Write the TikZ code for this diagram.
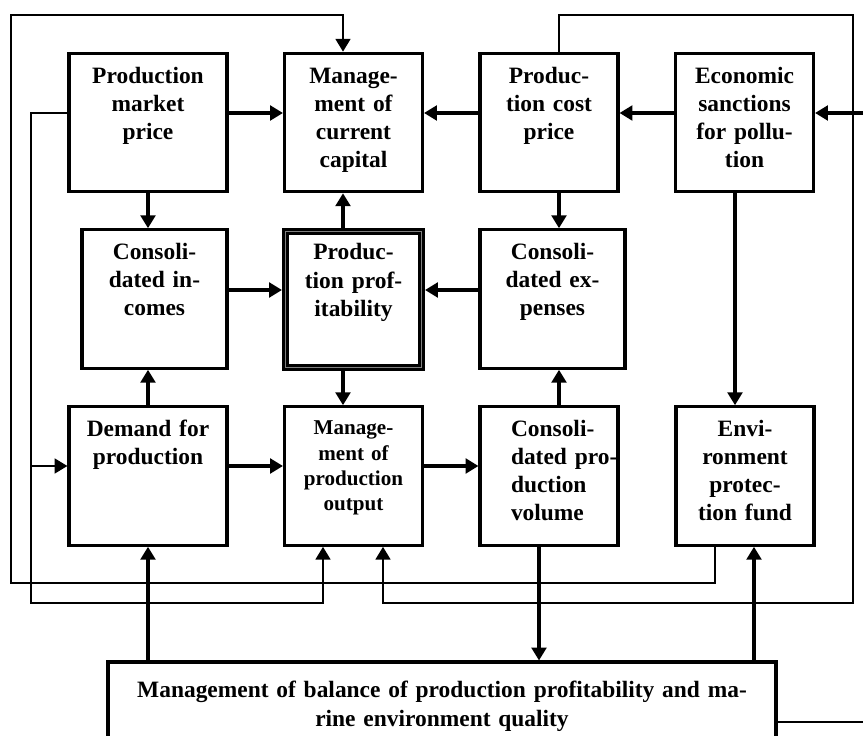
\documentclass[tikz,border=0pt]{standalone}
\usepackage{fontspec}
\setmainfont{Liberation Serif}
\usetikzlibrary{arrows.meta,positioning}

\begin{document}
\begin{tikzpicture}[
    x=0.03cm, y=-0.03cm,
    font=\bfseries\fontsize{20}{24}\selectfont,
    box/.style={draw=black, line width=2.6pt, fill=white, align=center,
      inner xsep=0pt, inner ysep=0pt, text height=25.5pt, text depth=92.7pt},
    wbox/.style={box, minimum width=4.74cm, text width=4.4cm},
    mbox/.style={box, minimum width=4.35cm, text width=4.1cm},
    nbox/.style={box, minimum width=4.14cm, text width=3.9cm},
    pbox/.style={nbox, minimum width=4.08cm, text height=24.3pt, text depth=91.8pt,
      line width=2.4pt, double=gray, double distance=1.2pt, outer sep=3pt},
    arrow/.style={-{Triangle[length=11pt,width=12.5pt]}, line width=3.8pt},
    link/.style={line width=2.4pt},
    linkarrow/.style={link, -{Triangle[length=11pt,width=12.5pt]}}
  ]
  \useasboundingbox (0,0) rectangle (863,736);
  %---- top row ----
  \node[wbox] (PMP) at (148,122.5) {Production\\market\\price};
  \node[nbox] (MCC) at (353.5,122.5) {Manage-\\ment of\\current\\capital};
  \node[nbox] (PCP) at (549,122.5) {Produc-\\tion cost\\price};
  \node[nbox] (ESP) at (744.5,122.5) {Economic\\sanctions\\for pollu-\\tion};
  %---- middle row ----
  \node[mbox] (CI) at (154.5,299) {Consoli-\\dated in-\\comes};
  \node[pbox] (PP) at (353.5,299.5) {Produc-\\tion prof-\\itability};
  \node[mbox] (CE) at (552.5,299) {Consoli-\\dated ex-\\penses};
  %---- bottom row ----
  \node[wbox] (DP) at (148,476) {Demand for\\production};
  \node[nbox, font=\bfseries\fontsize{18}{21.5}\selectfont,
    text height=24pt, text depth=94.2pt] (MPO) at (353.5,476)
    {Manage-\\ment of\\production\\output};
  \node[nbox, align=left, text width=2.28cm] (CPV) at (549,476)
    {\mbox{Consoli-}\\\mbox{dated pro-}\\duction\\volume};
  \node[nbox] (EPF) at (745,476) {Envi-\\ronment\\protec-\\tion fund};
  %---- balance ----
  \node[box, minimum width=20.04cm, text width=19.5cm,
    text height=30.7pt, text depth=35pt] (Bal) at (442,700.5)
    {Management of balance of production profitability and ma-\\rine environment quality};
  %---- levels ----
  \coordinate (r1) at (0,113);
  \coordinate (r2) at (0,290);
  \coordinate (r3) at (0,466);
  \coordinate (cA) at (148,0);
  \coordinate (cB) at (343,0);
  \coordinate (cC) at (559,0);
  \coordinate (cD) at (735,0);
  \coordinate (cE) at (539,0);
  \coordinate (cF) at (754,0);
  \coordinate (cG) at (715,0);
  \coordinate (cL) at (323,0);
  \coordinate (cR) at (383,0);
  \coordinate (ul) at (11,15);
  \coordinate (ur) at (853,15);
  \coordinate (ll) at (11,583);
  \coordinate (il) at (31,603);
  \coordinate (ir) at (853,603);
  \coordinate (edgeE) at (863,113);
  \coordinate (edgeS) at (863,722);
  %---- feedback loops ----
  \draw[linkarrow] (EPF.south -| cG) |- (ll) -- (ul) -| (MCC.north -| cB);
  \draw[linkarrow] (PMP.west |- r1) -| (il) -| (MPO.south -| cL);
  \draw[linkarrow] (il |- r3) -- (DP.west |- r3);
  \draw[linkarrow] (PCP.north -| cC) |- (ur) -- (ir) -| (MPO.south -| cR);
  \draw[link] (Bal.east |- edgeS) -- (edgeS);
  %---- main arrows ----
  \draw[arrow] (PMP.east |- r1) -- (MCC.west |- r1);
  \draw[arrow] (PCP.west |- r1) -- (MCC.east |- r1);
  \draw[arrow] (ESP.west |- r1) -- (PCP.east |- r1);
  \draw[arrow] (edgeE) -- (ESP.east |- r1);
  \draw[arrow] (PMP.south -| cA) -- (CI.north -| cA);
  \draw[arrow] (PP.north -| cB) -- (MCC.south -| cB);
  \draw[arrow] (PCP.south -| cC) -- (CE.north -| cC);
  \draw[arrow] (CI.east |- r2) -- (PP.west |- r2);
  \draw[arrow] (CE.west |- r2) -- (PP.east |- r2);
  \draw[arrow] (PP.south -| cB) -- (MPO.north -| cB);
  \draw[arrow] (DP.north -| cA) -- (CI.south -| cA);
  \draw[arrow] (CPV.north -| cC) -- (CE.south -| cC);
  \draw[arrow] (DP.east |- r3) -- (MPO.west |- r3);
  \draw[arrow] (MPO.east |- r3) -- (CPV.west |- r3);
  \draw[arrow] (ESP.south -| cD) -- (EPF.north -| cD);
  \draw[arrow] (Bal.north -| cA) -- (DP.south -| cA);
  \draw[arrow] (CPV.south -| cE) -- (Bal.north -| cE);
  \draw[arrow] (Bal.north -| cF) -- (EPF.south -| cF);
\end{tikzpicture}
\end{document}
